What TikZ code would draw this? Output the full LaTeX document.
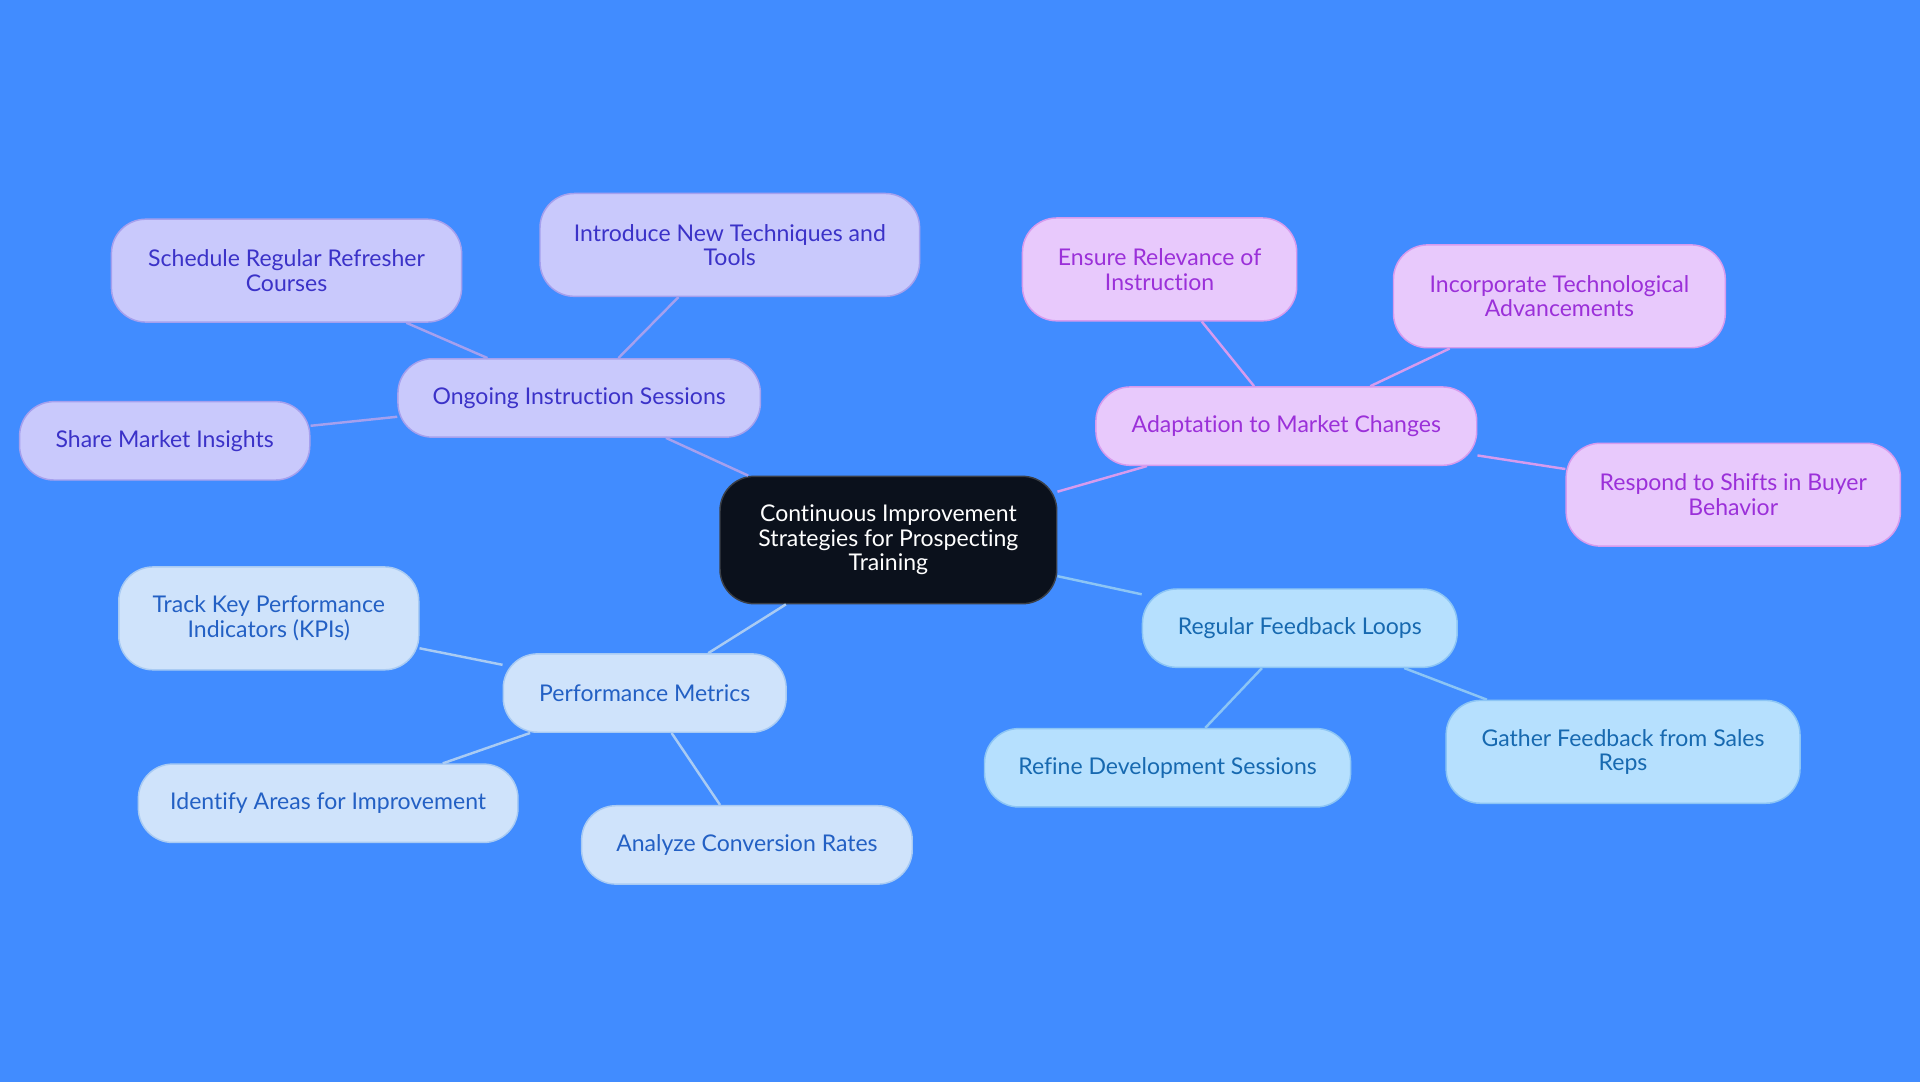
\documentclass[tikz,border=0pt]{standalone}
\usepackage{fontspec}
\setmainfont{Lato}[Ligatures=NoCommon]
\usepackage{xcolor}
\definecolor{bgblue}{HTML}{418CFF}
\definecolor{rootfill}{HTML}{0B111C}
\definecolor{rootline}{HTML}{3A3F47}
\definecolor{purfill}{HTML}{C9C9FC}
\definecolor{purline}{HTML}{A5A0EE}
\definecolor{purtext}{HTML}{3B32C8}
\definecolor{pinkfill}{HTML}{E8C9FC}
\definecolor{pinkline}{HTML}{D69BEE}
\definecolor{pinktext}{HTML}{9B30D9}
\definecolor{skyfill}{HTML}{B6E0FE}
\definecolor{skyline}{HTML}{8CC5F5}
\definecolor{skytext}{HTML}{1769B0}
\definecolor{palefill}{HTML}{CFE3FB}
\definecolor{paleline}{HTML}{A9CBF3}
\definecolor{paletext}{HTML}{2360C4}
\tikzset{
  box/.style={rounded corners=28pt, line width=1.2pt, align=center, inner sep=0pt,
    font=\fontsize{18.8}{20}\selectfont, minimum height=64pt},
  tall/.style={minimum height=84pt},
  root/.style={box, fill=rootfill, draw=rootline, text=white, minimum height=104pt},
  ongoing/.style={box, fill=purfill, draw=purline, text=purtext},
  market/.style={box, fill=pinkfill, draw=pinkline, text=pinktext},
  feedback/.style={box, fill=skyfill, draw=skyline, text=skytext},
  metrics/.style={box, fill=palefill, draw=paleline, text=paletext},
  purlink/.style={draw=purline, line width=2pt},
  pinklink/.style={draw=pinkline, line width=2pt},
  skylink/.style={draw=skyline, line width=2pt},
  palelink/.style={draw=paleline, line width=2pt}
}
\begin{document}
\begin{tikzpicture}[x=1pt, y=-1pt]
  \fill[bgblue] (0,0) rectangle (1568,884);
  \useasboundingbox (0,0) rectangle (1568,884);

  \node[root, minimum width=275pt] (root) at (725.5,441)
    {Continuous Improvement\\Strategies for Prospecting\\Training};

  \node[ongoing, minimum width=296pt] (ongoing) at (473,325) {Ongoing Instruction Sessions};
  \node[ongoing, tall, minimum width=286pt] (refresher) at (234,221) {Schedule Regular Refresher\\Courses};
  \node[ongoing, tall, minimum width=310pt] (techniques) at (596,200) {Introduce New Techniques and\\Tools};
  \node[ongoing, minimum width=237pt] (insights) at (134.5,360) {Share Market Insights};

  \node[market, minimum width=311pt] (market) at (1050.5,348) {Adaptation to Market Changes};
  \node[market, tall, minimum width=224pt] (relevance) at (947,220) {Ensure Relevance of\\Instruction};
  \node[market, tall, minimum width=271pt] (techadv) at (1273.5,242) {Incorporate Technological\\Advancements};
  \node[market, tall, minimum width=273pt] (shifts) at (1415.5,404) {Respond to Shifts in Buyer\\Behavior};

  \node[feedback, minimum width=257pt] (feedback) at (1061.5,513) {Regular Feedback Loops};
  \node[feedback, minimum width=299pt] (refine) at (953.5,627) {Refine Development Sessions};
  \node[feedback, tall, minimum width=289pt] (salesreps) at (1325.5,614) {Gather Feedback from Sales\\Reps};

  \node[metrics, minimum width=231pt] (metrics) at (526.5,566) {Performance Metrics};
  \node[metrics, tall, minimum width=245pt] (kpis) at (219.5,505) {Track Key Performance\\Indicators (KPIs)};
  \node[metrics, minimum width=310pt] (areas) at (268,656) {Identify Areas for Improvement};
  \node[metrics, minimum width=270pt] (conversion) at (610,690) {Analyze Conversion Rates};

  \draw[purlink] (root) -- (ongoing);
  \draw[purlink] (ongoing) -- (refresher);
  \draw[purlink] (ongoing) -- (techniques);
  \draw[purlink] (ongoing) -- (insights);
  \draw[pinklink] (root) -- (market);
  \draw[pinklink] (market) -- (relevance);
  \draw[pinklink] (market) -- (techadv);
  \draw[pinklink] (market) -- (shifts);
  \draw[skylink] (root) -- (feedback);
  \draw[skylink] (feedback) -- (refine);
  \draw[skylink] (feedback) -- (salesreps);
  \draw[palelink] (root) -- (metrics);
  \draw[palelink] (metrics) -- (kpis);
  \draw[palelink] (metrics) -- (areas);
  \draw[palelink] (metrics) -- (conversion);
\end{tikzpicture}
\end{document}
